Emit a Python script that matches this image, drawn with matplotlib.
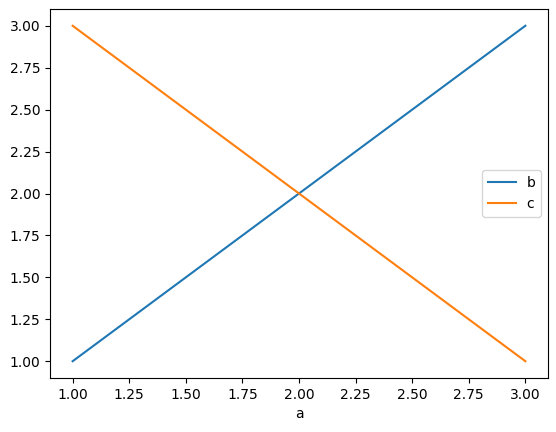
import matplotlib
matplotlib.use("Agg")
import matplotlib.pyplot as plt
import pandas as pd

a = [1, 2, 3]
b = [1, 2, 3]
c = [3, 2, 1]

df = pd.DataFrame({"a": a, "b": b, "c": c})

fig, ax = plt.subplots(figsize=(5.56, 4.32), dpi=100)
fig.subplots_adjust(left=50/556, right=548/556, top=1-9/432, bottom=1-378/432)
df.plot(x="a", ax=ax)
ax.legend(loc="center right")
fig.savefig("out.png", dpi=100)
